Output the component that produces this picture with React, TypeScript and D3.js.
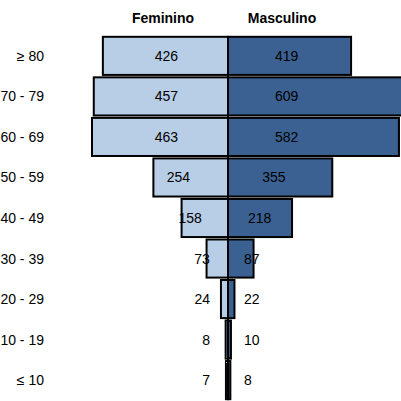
import * as d3 from "d3";

const ageGroups = ["≥ 80", "70 - 79", "60 - 69", "50 - 59", "40 - 49", "30 - 39", "20 - 29", "10 - 19", "≤ 10"];
const female = [426, 457, 463, 254, 158, 73, 24, 8, 7];
const male = [419, 609, 582, 355, 218, 87, 22, 10, 8];

const W = 401;
const H = 401;
const cx = 228;

export default function App() {
  const x = d3.scaleLinear().domain([0, 463]).range([0, 136]);
  const y = d3.scaleBand().domain(ageGroups).range([36, 400]).paddingInner(0.06).paddingOuter(0.02);
  const fOff = d3.scaleLinear().domain([21, 46, 75, 125]).range([18, 26, 38, 50]).clamp(true);
  const mOff = d3.scaleLinear().domain([30, 64, 104, 123]).range([16, 20, 34, 47]).clamp(true);
  const font = "Liberation Sans, Arial, sans-serif";

  return (
    <svg width={W} height={H} style={{ position: "absolute", left: 0, top: 0 }} fontFamily={font}>
      <text x={163} y={23} textAnchor="middle" fontWeight="bold" fontSize={14}>Feminino</text>
      <text x={282} y={23} textAnchor="middle" fontWeight="bold" fontSize={14}>Masculino</text>
      {ageGroups.map((g, i) => {
        const top = y(g)!;
        const h = y.bandwidth();
        const mid = top + h / 2;
        const wf = x(female[i]);
        const wm = x(male[i]);
        return (
          <g key={g}>
            <text x={44} y={mid + 5} textAnchor="end" fontSize={14}>{g}</text>
            <rect x={cx - wf} y={top} width={wf} height={h} fill="#b8cde6" stroke="#000" strokeWidth={2} />
            <rect x={cx} y={top} width={wm} height={h} fill="#3a6192" stroke="#000" strokeWidth={2} />
            <text x={cx - fOff(wf)} y={mid + 5} textAnchor="end" fontSize={14}>{female[i]}</text>
            <text x={cx + mOff(wm)} y={mid + 5} textAnchor="start" fontSize={14}>{male[i]}</text>
          </g>
        );
      })}
      <line x1={cx} x2={cx} y1={36} y2={400} stroke="#000" strokeWidth={2} />
    </svg>
  );
}
